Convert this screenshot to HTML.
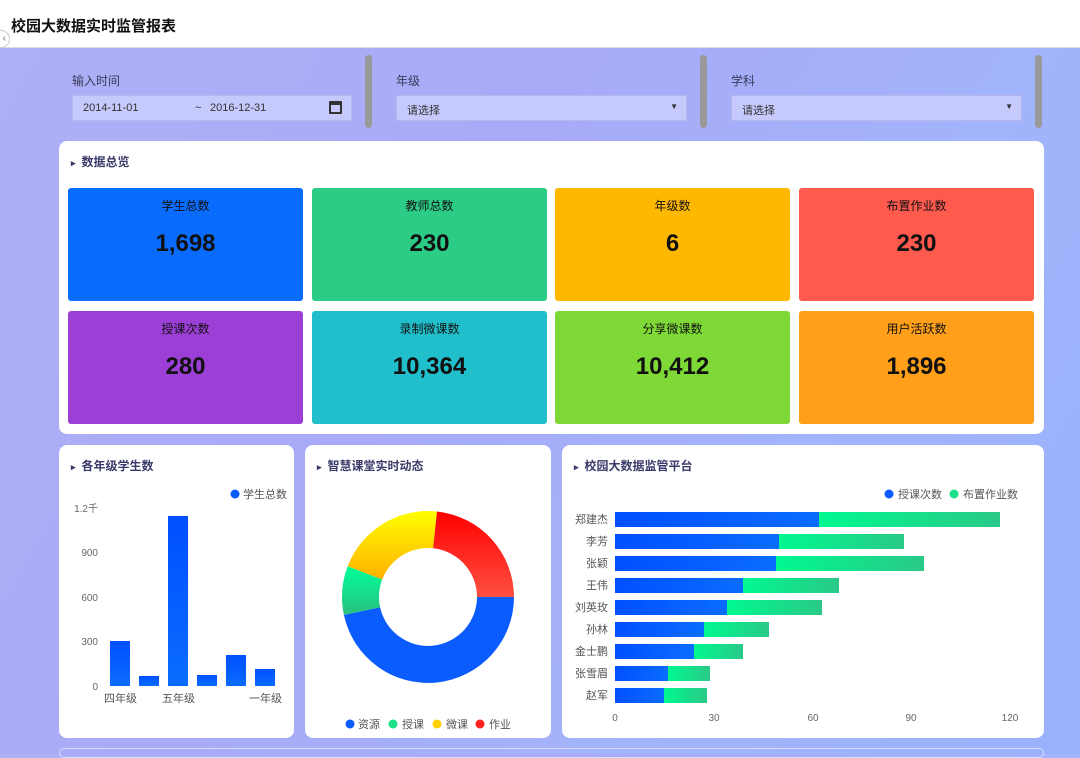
<!DOCTYPE html><html><head><meta charset="utf-8"><style>
*{margin:0;padding:0;box-sizing:border-box}
body{width:1080px;height:754px;overflow:hidden;font-family:"Liberation Sans","Noto Sans CJK SC",sans-serif;position:relative;background:linear-gradient(120deg,#aeb0f6 0%,#a8aaf7 40%,#a2b4fb 70%,#98b2fb 100%)}
.hdr{position:absolute;left:0;top:0;width:1080px;height:48px;background:#fff;border-bottom:1px solid #ddd}
.hdr h1{position:absolute;left:11px;top:15px;font-size:15px;font-weight:bold;color:#111}
.lbl{position:absolute;top:72px;font-size:12px;color:#3a3a5a}
.inp{position:absolute;top:95px;height:26px;background:#c6c9fb;border:1px solid #b4b6ec;font-size:11px;color:#333;padding:6px 10px}
.sb{position:absolute;top:55px;width:7px;height:73px;background:#999;border-radius:4px}
.panel{position:absolute;background:#fff;border-radius:8px}
.pt{position:absolute;left:12px;top:12px;font-size:12px;font-weight:bold;color:#3a3a6a}
.pt:before{content:"▸";font-size:9px;margin-right:6px;color:#3a3a6a}
.card{position:absolute;width:235px;height:113px;border-radius:3px;color:#111;text-align:center}
.card .a{margin-top:9px;font-size:12px}
.card .b{margin-top:16px;font-size:24px;font-weight:bold}
</style></head><body>
<div class="hdr"><h1>校园大数据实时监管报表</h1></div>
<div style="position:absolute;left:-8px;top:30px;width:18px;height:18px;border-radius:50%;background:#fff;border:1px solid #ccc;font-size:10px;line-height:16px;text-align:right;padding-right:3px;color:#666">‹</div>
<div class="lbl" style="left:72px">输入时间</div>
<div class="inp" style="left:72px;width:280px">2014-11-01<span style="position:absolute;left:122px">~</span><span style="position:absolute;left:137px">2016-12-31</span><span style="position:absolute;right:9px;top:5px;width:13px;height:13px;border:2px solid #333;border-top-width:4px;border-radius:1px"></span></div>
<div class="sb" style="left:365px"></div>
<div class="lbl" style="left:396px">年级</div>
<div class="inp" style="left:396px;width:291px">请选择<span style="position:absolute;right:8px;top:6px;font-size:8px">▼</span></div>
<div class="sb" style="left:700px"></div>
<div class="lbl" style="left:731px">学科</div>
<div class="inp" style="left:731px;width:291px">请选择<span style="position:absolute;right:8px;top:6px;font-size:8px">▼</span></div>
<div class="sb" style="left:1035px"></div>

<div class="panel" style="left:59px;top:141px;width:985px;height:293px"><div class="pt">数据总览</div></div>
<div class="card" style="left:68px;top:188px;background:#0a6cff"><div class="a">学生总数</div><div class="b">1,698</div></div>
<div class="card" style="left:312px;top:188px;background:#2ccb86"><div class="a">教师总数</div><div class="b">230</div></div>
<div class="card" style="left:555px;top:188px;background:#ffb800"><div class="a">年级数</div><div class="b">6</div></div>
<div class="card" style="left:799px;top:188px;background:#ff5a4e"><div class="a">布置作业数</div><div class="b">230</div></div>
<div class="card" style="left:68px;top:311px;background:#9b3fd6"><div class="a">授课次数</div><div class="b">280</div></div>
<div class="card" style="left:312px;top:311px;background:#21bfcc"><div class="a">录制微课数</div><div class="b">10,364</div></div>
<div class="card" style="left:555px;top:311px;background:#7ed936"><div class="a">分享微课数</div><div class="b">10,412</div></div>
<div class="card" style="left:799px;top:311px;background:#ff9f1a"><div class="a">用户活跃数</div><div class="b">1,896</div></div>

<div class="panel" style="left:59px;top:445px;width:235px;height:293px"><div class="pt">各年级学生数</div></div>
<div class="panel" style="left:305px;top:445px;width:246px;height:293px"><div class="pt">智慧课堂实时动态</div></div>
<div class="panel" style="left:562px;top:445px;width:482px;height:293px"><div class="pt">校园大数据监管平台</div></div>
<div style="position:absolute;left:59px;top:748px;width:985px;height:10px;border:1px solid #d8dbff;border-radius:6px"></div>

<svg width="1080" height="754" style="position:absolute;left:0;top:0" font-family="Liberation Sans,Noto Sans CJK SC,sans-serif">
<defs>
<linearGradient id="bv" x1="0" y1="0" x2="0" y2="1"><stop offset="0" stop-color="#0050ff"/><stop offset="1" stop-color="#0a6cff"/></linearGradient>
<linearGradient id="bh" x1="0" y1="0" x2="1" y2="0"><stop offset="0" stop-color="#0050ff"/><stop offset="1" stop-color="#0a6cff"/></linearGradient>
<linearGradient id="gh" x1="0" y1="0" x2="1" y2="0"><stop offset="0" stop-color="#00f890"/><stop offset="1" stop-color="#2ac987"/></linearGradient>
<linearGradient id="rd" x1="0" y1="0" x2="0" y2="1"><stop offset="0" stop-color="#ff0000"/><stop offset="1" stop-color="#ff5040"/></linearGradient>
<linearGradient id="yl" x1="0" y1="0" x2="0" y2="1"><stop offset="0" stop-color="#ffff00"/><stop offset="1" stop-color="#ffb000"/></linearGradient>
<linearGradient id="gr" x1="0" y1="0" x2="0" y2="1"><stop offset="0" stop-color="#00ff99"/><stop offset="1" stop-color="#2ac080"/></linearGradient>
</defs>
<g font-size="10" fill="#666" text-anchor="end">
<text x="98" y="512">1.2千</text><text x="98" y="556">900</text><text x="98" y="601">600</text><text x="98" y="645">300</text><text x="98" y="690">0</text></g>
<g fill="url(#bv)">
<rect x="110" y="641" width="20" height="45"/><rect x="139" y="676" width="20" height="10"/><rect x="168" y="516" width="20" height="170"/><rect x="197" y="675" width="20" height="11"/><rect x="226" y="655" width="20" height="31"/><rect x="255" y="669" width="20" height="17"/></g>
<g font-size="11" fill="#555"><text x="104" y="702">四年级</text><text x="162" y="702">五年级</text><text x="249" y="702">一年级</text></g>
<circle cx="235" cy="494" r="4.5" fill="#0a5cff"/><text x="243" y="498" font-size="11" fill="#555">学生总数</text>

<path d="M514 597 A86 86 0 0 1 343.9 614.9 L380.1 607.2 A49 49 0 0 0 477 597Z" fill="#0a5cff"/>
<path d="M343.9 614.9 A86 86 0 0 1 347.7 566.2 L382.2 579.5 A49 49 0 0 0 380.1 607.2Z" fill="url(#gr)"/>
<path d="M347.7 566.2 A86 86 0 0 1 437 511.5 L433.1 548.3 A49 49 0 0 0 382.2 579.5Z" fill="url(#yl)"/>
<path d="M437 511.5 A86 86 0 0 1 514 597 L477 597 A49 49 0 0 0 433.1 548.3Z" fill="url(#rd)"/>
<g font-size="11" fill="#555">
<circle cx="350" cy="724" r="4.5" fill="#0a5cff"/><text x="358" y="728">资源</text>
<circle cx="393" cy="724" r="4.5" fill="#1de08a"/><text x="402" y="728">授课</text>
<circle cx="437" cy="724" r="4.5" fill="#ffd000"/><text x="446" y="728">微课</text>
<circle cx="480" cy="724" r="4.5" fill="#ff2020"/><text x="489" y="728">作业</text>
<circle cx="889" cy="494" r="4.5" fill="#0a5cff"/><text x="898" y="498">授课次数</text>
<circle cx="954" cy="494" r="4.5" fill="#1de08a"/><text x="963" y="498">布置作业数</text>
</g>
<g font-size="11" fill="#555" text-anchor="end">
<text x="608" y="523">郑建杰</text><text x="608" y="545">李芳</text><text x="608" y="567">张颖</text><text x="608" y="589">王伟</text><text x="608" y="611">刘英玫</text><text x="608" y="633">孙林</text><text x="608" y="655">金士鹏</text><text x="608" y="677">张雪眉</text><text x="608" y="699">赵军</text></g>
<g>
<rect x="615" y="512" width="204" height="15" fill="url(#bh)"/><rect x="819" y="512" width="181" height="15" fill="url(#gh)"/>
<rect x="615" y="534" width="164" height="15" fill="url(#bh)"/><rect x="779" y="534" width="125" height="15" fill="url(#gh)"/>
<rect x="615" y="556" width="161" height="15" fill="url(#bh)"/><rect x="776" y="556" width="148" height="15" fill="url(#gh)"/>
<rect x="615" y="578" width="128" height="15" fill="url(#bh)"/><rect x="743" y="578" width="96" height="15" fill="url(#gh)"/>
<rect x="615" y="600" width="112" height="15" fill="url(#bh)"/><rect x="727" y="600" width="95" height="15" fill="url(#gh)"/>
<rect x="615" y="622" width="89" height="15" fill="url(#bh)"/><rect x="704" y="622" width="65" height="15" fill="url(#gh)"/>
<rect x="615" y="644" width="79" height="15" fill="url(#bh)"/><rect x="694" y="644" width="49" height="15" fill="url(#gh)"/>
<rect x="615" y="666" width="53" height="15" fill="url(#bh)"/><rect x="668" y="666" width="42" height="15" fill="url(#gh)"/>
<rect x="615" y="688" width="49" height="15" fill="url(#bh)"/><rect x="664" y="688" width="43" height="15" fill="url(#gh)"/></g>
<g font-size="10" fill="#666" text-anchor="middle"><text x="615" y="721">0</text><text x="714" y="721">30</text><text x="813" y="721">60</text><text x="911" y="721">90</text><text x="1010" y="721">120</text></g>
</svg>
</body></html>
